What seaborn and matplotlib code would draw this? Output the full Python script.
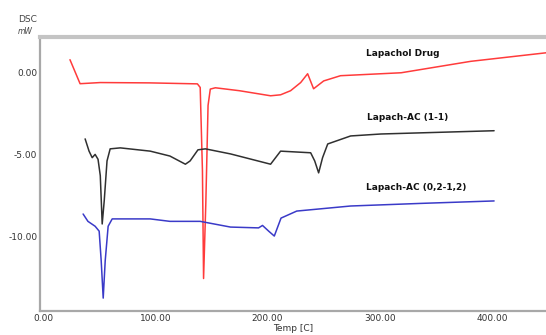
import numpy as np
import pandas as pd
import matplotlib
matplotlib.use("Agg")
import matplotlib.pyplot as plt
import seaborn as sns
from matplotlib.ticker import MultipleLocator

# ---- data ----
drug_T = [24, 33, 51, 95, 137.5, 140, 142, 143, 145, 147, 149, 153.5, 175, 202.7,
          211.6, 220.5, 229.5, 235.7, 241, 250, 265, 319, 381, 449]
drug_y = [0.8, -0.67, -0.6, -0.62, -0.68, -0.9, -6.0, -12.6, -8.0, -2.0, -1.0, -0.92, -1.1, -1.41,
          -1.35, -1.1, -0.6, -0.06, -0.98, -0.5, -0.18, 0.0, 0.7, 1.23]

ac11_T = [37.5, 41, 43.8, 46.4, 49, 51, 52.7, 54.5, 57, 59.8, 68.8, 95.5, 113, 126.8, 131,
          138, 144.6, 167, 202.7, 211.6, 238.4, 242, 245.5, 249, 253.6, 274, 301, 401.8]
ac11_y = [-4.05, -4.8, -5.2, -5.0, -5.3, -6.3, -9.26, -7.85, -5.4, -4.66, -4.6, -4.8, -5.1, -5.6, -5.4,
          -4.72, -4.66, -4.97, -5.6, -4.8, -4.9, -5.4, -6.13, -5.2, -4.36, -3.87, -3.75, -3.55]

ac02_T = [35.7, 40, 46.4, 50, 51.8, 53.6, 55.4, 58, 61.6, 95.5, 113, 140, 167, 192, 195.5,
          201, 206, 212, 226, 274, 336.6, 401.8]
ac02_y = [-8.65, -9.1, -9.4, -9.7, -11.5, -13.8, -11.5, -9.4, -8.95, -8.95, -9.1, -9.1, -9.45, -9.5, -9.35,
          -9.7, -10.0, -8.9, -8.47, -8.16, -8.0, -7.85]

series_names = ["Lapachol Drug", "Lapach-AC (1-1)", "Lapach-AC (0,2-1,2)"]
series_colors = ["#ff3b3b", "#303030", "#3a3ac8"]
x_ticks = [0, 100, 200, 300, 400]
x_tick_labels = ["0.00", "100.00", "200.00", "300.00", "400.00"]
y_ticks = [0, -5, -10]
y_tick_labels = ["0.00", "-5.00", "-10.00"]

frames = []
for name, T, y in zip(series_names, [drug_T, ac11_T, ac02_T], [drug_y, ac11_y, ac02_y]):
    frames.append(pd.DataFrame({"Temp": T, "DSC": y, "series": name}))
df = pd.concat(frames, ignore_index=True)

sns.set_theme(style="white")
plt.rcParams['font.family'] = ['DejaVu Sans']

fig = plt.figure(figsize=(5.46, 3.35), dpi=100)
ax = fig.add_axes([40/546, 1 - 311/335, 1 - 40/546 + 0.002, (311 - 37)/335])

sns.lineplot(data=df, x="Temp", y="DSC", hue="series", units="series", estimator=None,
             sort=False, palette=dict(zip(series_names, series_colors)), linewidth=1.1,
             legend=False, ax=ax)

ax.set_xlim(-2.7, 449)
ax.set_ylim(-14.59, 2.19)
ax.set_xticks(x_ticks)
ax.set_xticklabels(x_tick_labels)
ax.set_yticks(y_ticks)
ax.set_yticklabels(y_tick_labels)
ax.xaxis.set_minor_locator(MultipleLocator(20))
ax.yaxis.set_minor_locator(MultipleLocator(0.5))
ax.tick_params(axis="both", which="major", direction="in", length=4, width=0.8,
               color="#888888", labelsize=6.5, labelcolor="#333333", pad=2)
ax.tick_params(axis="both", which="minor", direction="in", length=2, width=0.6, color="#999999")
ax.set_xlabel("Temp [C]", fontsize=6.5, color="#333333", labelpad=1)
ax.set_ylabel("")

for side in ["left", "bottom"]:
    ax.spines[side].set_color("#a8a8a8")
    ax.spines[side].set_linewidth(1.6)
ax.spines["top"].set_color("#c4c4c4")
ax.spines["top"].set_linewidth(3.0)
ax.spines["right"].set_visible(False)

label_pos = [(287.5, 1.17), (289, -2.76), (287.5, -7.05)]
for name, (tx, ty) in zip(series_names, label_pos):
    ax.text(tx, ty, name, fontsize=6.5, fontweight="bold", color="#111111", va="center", ha="left")

fig.text(18/546, 1 - 20/335, "DSC", fontsize=6.5, color="#444444", va="center", ha="left")
fig.text(18/546, 1 - 31/335, "mW", fontsize=5.5, color="#444444", va="center", ha="left",
         fontstyle="italic")

fig.savefig("out.png", dpi=100)
